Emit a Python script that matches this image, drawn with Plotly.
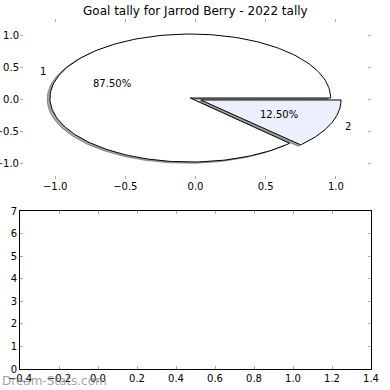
import numpy as np
import plotly.graph_objects as go

# ---- data ----
labels = ["1", "2"]
values = [7, 1]
colors = ["#ffffff", "#ebf0fc"]
title = "Goal tally for Jarrod Berry - 2022 tally"
explode = [0.04, 0.04]
top_ticks = [-1.0, -0.5, 0.0, 0.5, 1.0]
bottom_xticks = [-0.4, -0.2, 0.0, 0.2, 0.4, 0.6, 0.8, 1.0, 1.2, 1.4]
bottom_yticks = [0, 1, 2, 3, 4, 5, 6, 7]
watermark = "Dream-Stats.com"

W = H = 390
FONT = "DejaVu Sans"

def fmt(v):
    s = f"{abs(v):.1f}"
    return ("\u2212" + s) if v < 0 else s

def darken(hexc, f=0.3):
    h = hexc.lstrip("#")
    r, g, b = (int(h[i:i+2], 16) for i in (0, 2, 4))
    return f"rgba({int(r*f)},{int(g*f)},{int(b*f)},0.5)"

fig = go.Figure()

total = float(sum(values))
fracs = [v / total for v in values]
theta = 0.0
wedges = []
for lab, fr, col, ex in zip(labels, fracs, colors, explode):
    t1 = theta + 360.0 * fr
    mid = np.deg2rad((theta + t1) / 2)
    cx, cy = ex * np.cos(mid), ex * np.sin(mid)
    ang = np.deg2rad(np.linspace(theta, t1, 200))
    xs = np.concatenate([[cx], cx + np.cos(ang), [cx]])
    ys = np.concatenate([[cy], cy + np.sin(ang), [cy]])
    wedges.append((lab, fr, col, xs, ys, cx, cy, mid))
    theta = t1

# shadows first
for lab, fr, col, xs, ys, cx, cy, mid in wedges:
    sc = darken(col)
    fig.add_trace(go.Scatter(x=xs - 0.02, y=ys - 0.02, mode="lines", fill="toself",
                             fillcolor=sc, line=dict(color=sc, width=1),
                             hoverinfo="skip", showlegend=False, xaxis="x", yaxis="y"))
for lab, fr, col, xs, ys, cx, cy, mid in wedges:
    fig.add_trace(go.Scatter(x=xs, y=ys, mode="lines", fill="toself",
                             fillcolor=col, line=dict(color="black", width=1),
                             hoverinfo="skip", showlegend=False, xaxis="x", yaxis="y"))

annotations = []
for lab, fr, col, xs, ys, cx, cy, mid in wedges:
    lx, ly = cx + 1.1 * np.cos(mid), cy + 1.1 * np.sin(mid)
    annotations.append(dict(x=lx, y=ly, xref="x", yref="y", text=lab, showarrow=False,
                            xanchor="left" if lx > 0 else "right", yanchor="middle",
                            font=dict(size=10, color="black", family=FONT)))
    px, py = cx + 0.6 * np.cos(mid), cy + 0.6 * np.sin(mid)
    annotations.append(dict(x=px, y=py, xref="x", yref="y", text=f"{fr*100:.2f}%",
                            showarrow=False, xanchor="center", yanchor="middle",
                            font=dict(size=10, color="black", family=FONT)))

# empty bottom axes trace
fig.add_trace(go.Scatter(x=[], y=[], xaxis="x2", yaxis="y2", showlegend=False))

annotations.append(dict(x=195.5 / W, y=1 - 11 / H, xref="paper", yref="paper", text=title,
                        showarrow=False, xanchor="center", yanchor="middle",
                        font=dict(size=12, color="black", family=FONT)))
annotations.append(dict(x=0, y=1 - 381 / H, xref="paper", yref="paper", text=watermark,
                        showarrow=False, xanchor="left", yanchor="middle",
                        font=dict(size=12, color="rgba(120,120,120,0.7)", family=FONT)))

tick_common = dict(ticks="inside", ticklen=3, tickcolor="#aaaaaa", tickwidth=1,
                   showgrid=False, zeroline=False, automargin=False,
                   tickfont=dict(size=10, color="black", family=FONT))

xd = [20 / W, 371 / W]
fig.update_layout(
    width=W, height=H, margin=dict(l=0, r=0, t=0, b=0, autoexpand=False),
    paper_bgcolor="white", plot_bgcolor="white",
    showlegend=False,
    xaxis=dict(domain=xd, range=[-1.25, 1.25], tickvals=top_ticks,
               ticktext=[fmt(v) for v in top_ticks], showline=False, mirror="ticks",
               anchor="y", **tick_common),
    yaxis=dict(domain=[1 - 179 / H, 1 - 19 / H], range=[-1.25, 1.25], tickvals=top_ticks,
               ticktext=[fmt(v) for v in top_ticks], showline=False, mirror="ticks",
               anchor="x", **tick_common),
    xaxis2=dict(domain=xd, range=[-0.4, 1.4], tickvals=bottom_xticks,
                ticktext=[fmt(v) for v in bottom_xticks], showline=True, linecolor="black",
                linewidth=1, mirror="ticks", anchor="y2", **tick_common),
    yaxis2=dict(domain=[1 - 369 / H, 1 - 211 / H], range=[0, 7], tickvals=bottom_yticks,
                ticktext=[str(v) for v in bottom_yticks], showline=True, linecolor="black",
                linewidth=1, mirror="ticks", anchor="x2", **tick_common),
    annotations=annotations,
)

fig.write_html("out.html", config={"displayModeBar": False},
               post_script="document.body.style.margin='0';document.body.style.overflow='hidden';")
